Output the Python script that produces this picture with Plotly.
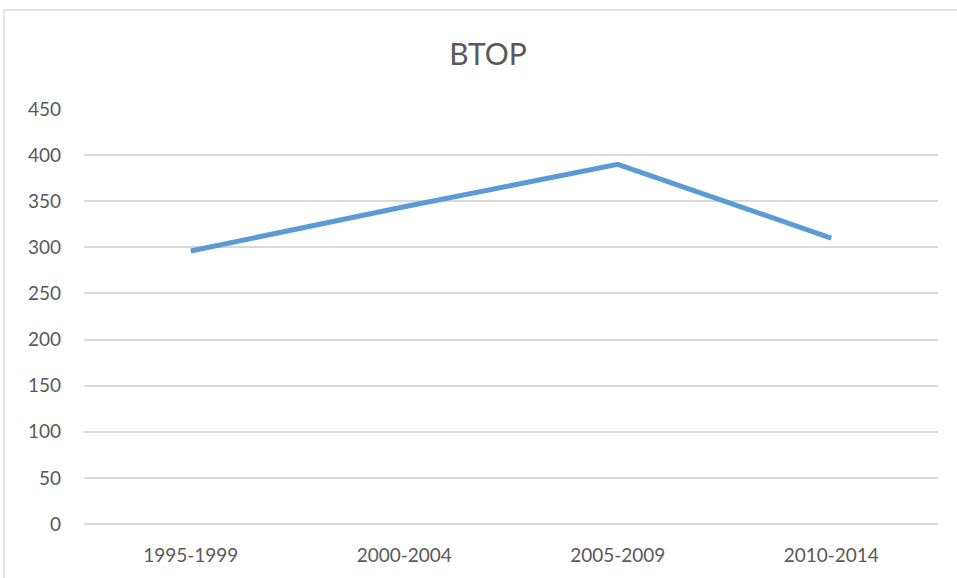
import plotly.graph_objects as go

categories = ["1995-1999", "2000-2004", "2005-2009", "2010-2014"]
values = [296, 344, 390, 310]
y_ticks = [0, 50, 100, 150, 200, 250, 300, 350, 400, 450]

W, H = 957, 578
L, R, T, B = 84, 19, 109, 54
pw, ph = W - L - R, H - T - B

fig = go.Figure()
fig.add_trace(go.Scatter(
    x=categories, y=values, mode="lines",
    line=dict(color="#5B9BD5", width=5),
    hoverinfo="x+y", showlegend=False,
))

font_family = "Lato, 'Open Sans', sans-serif"
fig.update_layout(
    width=W, height=H,
    margin=dict(l=L, r=R, t=T, b=B),
    paper_bgcolor="white", plot_bgcolor="white",
    title=dict(text="BTOP", x=488 / W, xanchor="center", y=1 - 54 / H, yanchor="middle",
               font=dict(family=font_family, size=30, color="#595959")),
    font=dict(family=font_family, color="#595959", size=19),
    xaxis=dict(type="category", range=[-0.5, 3.5], showgrid=False, zeroline=False,
               showline=False, ticks="", ticklabelstandoff=18,
               tickfont=dict(size=19, color="#595959")),
    yaxis=dict(range=[0, 450], tickvals=y_ticks, showgrid=True, gridcolor="#D9D9D9",
               gridwidth=1.5, zeroline=True, zerolinecolor="#D9D9D9", zerolinewidth=1.5,
               showline=False, ticks="",
               ticklabelstandoff=22, tickfont=dict(size=19, color="#595959")),
    shapes=[dict(type="rect", xref="paper", yref="paper",
                 x0=(4 - L) / pw, x1=(W + 10 - L) / pw,
                 y0=(H - B - (H + 10)) / ph, y1=(H - B - 10) / ph,
                 line=dict(color="#D9D9D9", width=1.3), fillcolor="rgba(0,0,0,0)",
                 layer="below")],
)

fig.write_html("out.html", config={"displayModeBar": False},
               post_script="document.body.style.margin='0px';")
